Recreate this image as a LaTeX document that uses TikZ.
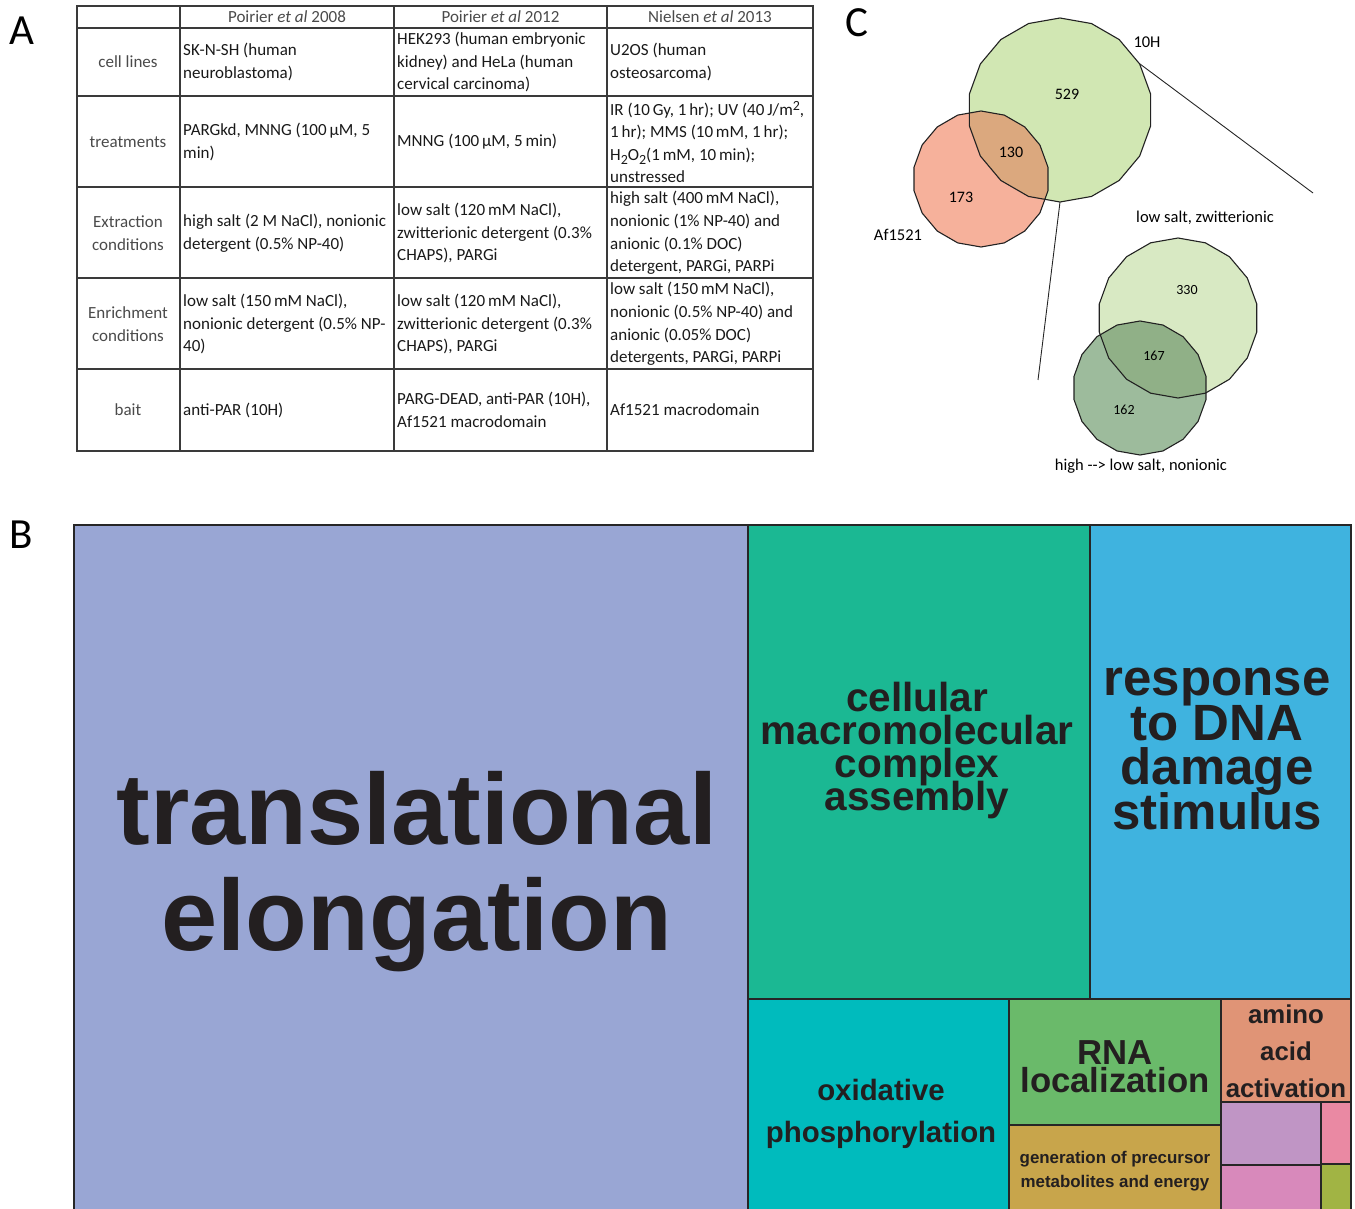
\documentclass[tikz,border=0pt]{standalone}
\usepackage{fontspec}
\setmainfont{Carlito}
\newfontfamily\tmfont{Liberation Sans}
\usetikzlibrary{positioning}

\definecolor{tabline}{HTML}{3A3A3A}
\definecolor{tabgray}{HTML}{4A4A4A}
\definecolor{vennline}{HTML}{222222}
\definecolor{vgreen}{HTML}{D1E7B3}
\definecolor{vpink}{HTML}{F6B19B}
\definecolor{vbrown}{HTML}{DBA87E}
\definecolor{vlight}{HTML}{D8E9C3}
\definecolor{vdark}{HTML}{9DBB9C}
\definecolor{vmid}{HTML}{90B087}
\definecolor{tileline}{HTML}{262626}
\definecolor{termtext}{HTML}{231F20}
\definecolor{ctransl}{HTML}{99A6D4}
\definecolor{ccell}{HTML}{1BB893}
\definecolor{cresp}{HTML}{3FB3DF}
\definecolor{coxid}{HTML}{00BBBD}
\definecolor{crna}{HTML}{6ABA6A}
\definecolor{cgen}{HTML}{C8A54B}
\definecolor{camino}{HTML}{E09476}
\definecolor{cpurple}{HTML}{C095C5}
\definecolor{cpinkred}{HTML}{EA89A3}
\definecolor{cpink}{HTML}{D889BB}
\definecolor{colive}{HTML}{A1B444}

\newcommand\tabtext{\fontsize{17}{22.6}\selectfont}
\newcommand\tabsub[1]{\raisebox{-4pt}{\fontsize{14}{14}\selectfont #1}}
\newcommand\tabsup[1]{\raisebox{5pt}{\fontsize{14}{14}\selectfont #1}}
\newcommand\termfont[2]{\tmfont\bfseries\fontsize{#1}{#2}\selectfont\lineskiplimit=-\maxdimen}
% 18-gon used for the Venn sets
\newcommand\vennshape[2]{(#1) +(90:#2) \foreach \a in {110,130,...,430}{ -- +(\a:#2)} -- cycle}

\begin{document}
\begin{tikzpicture}[
  x=1pt, y=-1pt,
  grid/.style={draw=tabline, line width=1.2pt},
  cell/.style={anchor=west, align=left, inner sep=0pt, text=black!90, font=\tabtext},
  rowhead/.style={align=center, inner sep=0pt, text=tabgray, font=\tabtext},
  colhead/.style={inner sep=0pt, text=tabgray, font=\tabtext},
  panel/.style={inner sep=0pt, font=\fontsize{43}{43}\selectfont},
  vennset/.style={draw=vennline, line width=1.1pt},
  count/.style={inner sep=0pt, font=\fontsize{16}{16}\selectfont},
  smallcount/.style={inner sep=0pt, font=\fontsize{14}{14}\selectfont},
  setname/.style={inner sep=0pt, font=\fontsize{16.5}{16.5}\selectfont},
  zoomline/.style={draw=black!85, line width=0.9pt},
  tile/.style={draw=tileline, line width=2.6pt},
  term/.style={align=center, inner sep=0pt, text=termtext}
]
\useasboundingbox (0,0) rectangle (1355,1209);
\clip (0,0) rectangle (1355,1209);

% --- Panel letters ---
\node[panel] (pA) at (22,31) {A};
\node[panel] (pB) at (21,535) {B};
\node[panel] (pC) at (857,23) {C};

% --- A: table ---
\draw[grid] (77,6) rectangle (813,451);
\foreach \x in {180,394,607} \draw[grid] (\x,6) -- (\x,451);
\foreach \y in {28,96,187,278,369} \draw[grid] (77,\y) -- (813,\y);

\node[colhead] (h2008) at (287,17) {Poirier \textit{et al} 2008};
\node[colhead] (h2012) at (500.5,17) {Poirier \textit{et al} 2012};
\node[colhead] (h2013) at (710,17) {Nielsen \textit{et al} 2013};

\node[rowhead] (lcl) at (128,62) {cell lines};
\node[rowhead] (ltr) at (128,142) {treatments};
\node[rowhead] (lex) at (128,233) {Extraction\\conditions};
\node[rowhead] (len) at (128,324) {Enrichment\\conditions};
\node[rowhead] (lbt) at (128,410) {bait};

\node[cell] (cl2008) at (183,62) {SK-N-SH (human\\neuroblastoma)};
\node[cell] (cl2012) at (397,62) {HEK293 (human embryonic\\kidney) and HeLa (human\\cervical carcinoma)};
\node[cell] (cl2013) at (610,62) {U2OS (human\\osteosarcoma)};

\node[cell] (tr2008) at (183,142) {PARGkd, MNNG (100\,µM, 5\\min)};
\node[cell] (tr2012) at (397,142) {MNNG (100\,µM, 5\,min)};
\node[cell] (tr2013) at (610,142) {IR (10\,Gy, 1\,hr); UV (40\,J/m\tabsup{2},\\1\,hr); MMS (10\,mM, 1\,hr);\\H\tabsub{2}O\tabsub{2}(1\,mM, 10\,min);\\unstressed};

\node[cell] (ex2008) at (183,233) {high salt (2 M NaCl), nonionic\\detergent (0.5\% NP-40)};
\node[cell] (ex2012) at (397,233) {low salt (120\,mM NaCl),\\zwitterionic detergent (0.3\%\\CHAPS), PARGi};
\node[cell] (ex2013) at (610,233) {high salt (400\,mM NaCl),\\nonionic (1\% NP-40) and\\anionic (0.1\% DOC)\\detergent, PARGi, PARPi};

\node[cell] (en2008) at (183,324) {low salt (150\,mM NaCl),\\nonionic detergent (0.5\% NP-\\40)};
\node[cell] (en2012) at (397,324) {low salt (120\,mM NaCl),\\zwitterionic detergent (0.3\%\\CHAPS), PARGi};
\node[cell] (en2013) at (610,324) {low salt (150\,mM NaCl),\\nonionic (0.5\% NP-40) and\\anionic (0.05\% DOC)\\detergents, PARGi, PARPi};

\node[cell] (bt2008) at (183,410) {anti-PAR (10H)};
\node[cell] (bt2012) at (397,410) {PARG-DEAD, anti-PAR (10H),\\Af1521 macrodomain};
\node[cell] (bt2013) at (610,410) {Af1521 macrodomain};

% --- C: Venn diagrams ---
\coordinate (tenH) at (1060,110);
\coordinate (afset) at (981,179);
\coordinate (zwit) at (1178,318);
\coordinate (nonion) at (1140,388);
\coordinate (tenHne) at (1140,64);
\coordinate (tenHs) at (1060,202);
\coordinate (zoomA) at (1313,193);
\coordinate (zoomB) at (1038,380);

\draw[zoomline] (tenHne) -- (zoomA);
\draw[zoomline] (tenHs) -- (zoomB);

\fill[vgreen] \vennshape{tenH}{92};
\fill[vpink] \vennshape{afset}{68};
\begin{scope}
  \clip \vennshape{tenH}{92};
  \fill[vbrown] \vennshape{afset}{68};
\end{scope}
\path[vennset] \vennshape{tenH}{92};
\path[vennset] \vennshape{afset}{68};

\fill[vlight] \vennshape{zwit}{80};
\fill[vdark] \vennshape{nonion}{67};
\begin{scope}
  \clip \vennshape{zwit}{80};
  \fill[vmid] \vennshape{nonion}{67};
\end{scope}
\path[vennset] \vennshape{zwit}{80};
\path[vennset] \vennshape{nonion}{67};

\node[count] (n529) at (1067,94) {529};
\node[count] (n130) at (1011,152) {130};
\node[count] (n173) at (961,197) {173};
\node[smallcount] (n330) at (1187,290) {330};
\node[smallcount] (n167) at (1154,356) {167};
\node[smallcount] (n162) at (1124,410) {162};

\node[setname] (l10H) at (1147,42) {10H};
\node[setname] (lAf) at (898,235) {Af1521};
\node[setname] (lzwit) at (1205,218) {low salt, zwitterionic};
\node[setname] (lnonion) at (1141,466) {high -{}-{}> low salt, nonionic};

% --- B: treemap ---
\path[tile, fill=ctransl] (74,525) rectangle (748,1215);
\path[tile, fill=ccell] (748,525) rectangle (1090,999);
\path[tile, fill=cresp] (1090,525) rectangle (1351,999);
\path[tile, fill=coxid] (748,999) rectangle (1009,1215);
\path[tile, fill=crna] (1009,999) rectangle (1221,1125);
\path[tile, fill=cgen] (1009,1125) rectangle (1221,1215);
\path[tile, fill=camino] (1221,999) rectangle (1351,1102);
\path[tile, fill=cpurple] (1221,1102) rectangle (1321,1165);
\path[tile, fill=cpinkred] (1321,1102) rectangle (1351,1164);
\path[tile, fill=cpink] (1221,1165) rectangle (1321,1215);
\path[tile, fill=colive] (1321,1164) rectangle (1351,1215);

\node[term, font=\termfont{101}{106}] (transl) at (417,872) {translational\\elongation};
\node[term, font=\termfont{40.5}{33}] (cellas) at (917,751) {cellular\\macromolecular\\complex\\assembly};
\node[term, font=\termfont{51}{44.5}] (dnaresp) at (1217,749) {response\\to DNA\\damage\\stimulus};
\node[term, font=\termfont{29.4}{42}] (oxphos) at (881,1114) {oxidative\\phosphorylation};
\node[term, font=\termfont{34.7}{28}] (rnaloc) at (1115,1067) {RNA\\localization};
\node[term, font=\termfont{25.8}{37}] (aminoact) at (1286,1051) {amino\\acid\\activation};
\node[term, font=\termfont{16.9}{24}] (genprec) at (1115,1171) {generation of precursor\\metabolites and energy};

\end{tikzpicture}
\end{document}
